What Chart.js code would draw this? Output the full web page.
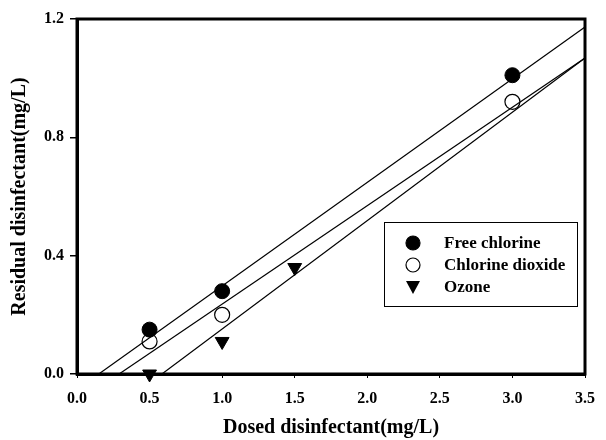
<!DOCTYPE html>
<html>
<head>
<meta charset="utf-8">
<script src="https://cdn.jsdelivr.net/npm/chart.js@4.4.1/dist/chart.umd.min.js"></script>
<style>
  body { margin: 0; background: #fff; }
  #wrap { width: 606px; height: 440px; }
</style>
</head>
<body>
<div id="wrap"><canvas id="chart" width="606" height="440"></canvas></div>
<script>
// valeurs
const doses = [0.5, 1.0, 3.0];
const freeChlorine = [0.15, 0.28, 1.01];
const chlorineDioxide = [0.11, 0.20, 0.92];
const ozoneDoses = [0.5, 1.0, 1.5];
const ozone = [0.0, 0.11, 0.36];

// droites de régression (extrémités lues)
const fitFreeX = [0.15, 3.5];
const fitFreeY = [0.0, 1.173];
const fitDioxideX = [0.29, 3.5];
const fitDioxideY = [0.0, 1.068];
const fitOzoneX = [0.585, 3.5];
const fitOzoneY = [0.0, 1.068];

const xTicks = [0, 0.5, 1.0, 1.5, 2.0, 2.5, 3.0, 3.5];
const yTicks = [0, 0.4, 0.8, 1.2];

const serif = "'Liberation Serif', 'Times New Roman', serif";

const pts = (xs, ys) => xs.map((x, i) => ({ x: x, y: ys[i] }));

const fitLine = (xs, ys) => ({
  type: "line",
  data: pts(xs, ys),
  borderColor: "#000",
  borderWidth: 1.2,
  pointRadius: 0,
  fill: false,
});

// cadre autour de la zone de tracé + légende
const framePlugin = {
  id: "frame",
  afterDatasetsDraw(chart) {
    const { ctx, chartArea: a } = chart;
    ctx.save();
    ctx.strokeStyle = "#000";
    ctx.lineWidth = 3;
    ctx.strokeRect(a.left, a.top, a.right - a.left, a.bottom - a.top);

    // légende
    const lx = a.left + 307, ly = a.top + 203, lw = 193, lh = 84;
    ctx.fillStyle = "#fff";
    ctx.fillRect(lx, ly, lw, lh);
    ctx.lineWidth = 1;
    ctx.strokeRect(lx + 0.5, ly + 0.5, lw, lh);

    const items = ["Free chlorine", "Chlorine dioxide", "Ozone"];
    ctx.font = "bold 17px " + serif;
    ctx.textBaseline = "middle";
    items.forEach((t, i) => {
      const cy = ly + 21 + i * 22;
      const cx = lx + 29;
      ctx.beginPath();
      if (i === 2) {
        ctx.moveTo(cx - 7, cy - 6);
        ctx.lineTo(cx + 7, cy - 6);
        ctx.lineTo(cx, cy + 7);
        ctx.closePath();
        ctx.fillStyle = "#000";
        ctx.fill();
      } else {
        ctx.arc(cx, cy, 7, 0, Math.PI * 2);
        ctx.fillStyle = i === 0 ? "#000" : "#fff";
        ctx.fill();
        ctx.lineWidth = 1.2;
        ctx.strokeStyle = "#000";
        ctx.stroke();
      }
      ctx.fillStyle = "#000";
      ctx.fillText(t, lx + 60, cy + 1);
    });
    ctx.restore();
  },
};

const chart = new Chart(document.getElementById("chart").getContext("2d"), {
  type: "scatter",
  data: {
    datasets: [
      fitLine(fitFreeX, fitFreeY),
      fitLine(fitDioxideX, fitDioxideY),
      fitLine(fitOzoneX, fitOzoneY),
      {
        label: "Free chlorine",
        data: pts(doses, freeChlorine),
        pointStyle: "circle",
        pointRadius: 7.5,
        backgroundColor: "#000",
        borderColor: "#000",
        clip: false,
      },
      {
        label: "Chlorine dioxide",
        data: pts(doses, chlorineDioxide),
        pointStyle: "circle",
        pointRadius: 7.5,
        backgroundColor: "#fff",
        borderColor: "#000",
        borderWidth: 1.2,
        clip: false,
      },
      {
        label: "Ozone",
        data: pts(ozoneDoses, ozone),
        pointStyle: "triangle",
        rotation: 180,
        pointRadius: 8,
        backgroundColor: "#000",
        borderColor: "#000",
        clip: false,
      },
    ],
  },
  options: {
    responsive: false,
    animation: false,
    layout: { padding: { left: 0, right: 14, top: 19, bottom: 0 } },
    plugins: { legend: { display: false }, tooltip: { enabled: false } },
    scales: {
      x: {
        type: "linear",
        min: 0,
        max: 3.5,
        afterBuildTicks: (s) => { s.ticks = xTicks.map((v) => ({ value: v })); },
        afterFit: (s) => { s.height = 66; },
        grid: { drawOnChartArea: false, tickLength: 4, color: "#000", lineWidth: 1 },
        border: { color: "#000", width: 3 },
        ticks: {
          padding: 11,
          color: "#000",
          font: { family: serif, size: 16, weight: "bold" },
          callback: (v) => v.toFixed(1),
          maxRotation: 0,
        },
        title: {
          display: true,
          text: "Dosed disinfectant(mg/L)",
          color: "#000",
          font: { family: serif, size: 20, weight: "bold" },
          padding: { top: 0, bottom: 0 },
        },
      },
      y: {
        type: "linear",
        min: 0,
        max: 1.2,
        afterBuildTicks: (s) => { s.ticks = yTicks.map((v) => ({ value: v })); },
        afterFit: (s) => { s.width = 77; },
        grid: { drawOnChartArea: false, tickLength: 7, color: "#000", lineWidth: 1.5 },
        border: { color: "#000", width: 3 },
        ticks: {
          padding: 6,
          color: "#000",
          font: { family: serif, size: 16, weight: "bold" },
          callback: (v) => v.toFixed(1),
        },
        title: {
          display: true,
          text: "Residual disinfectant(mg/L)",
          color: "#000",
          font: { family: serif, size: 20, weight: "bold" },
          padding: { top: 8, bottom: 0 },
        },
      },
    },
  },
  plugins: [framePlugin],
});
</script>
</body>
</html>
